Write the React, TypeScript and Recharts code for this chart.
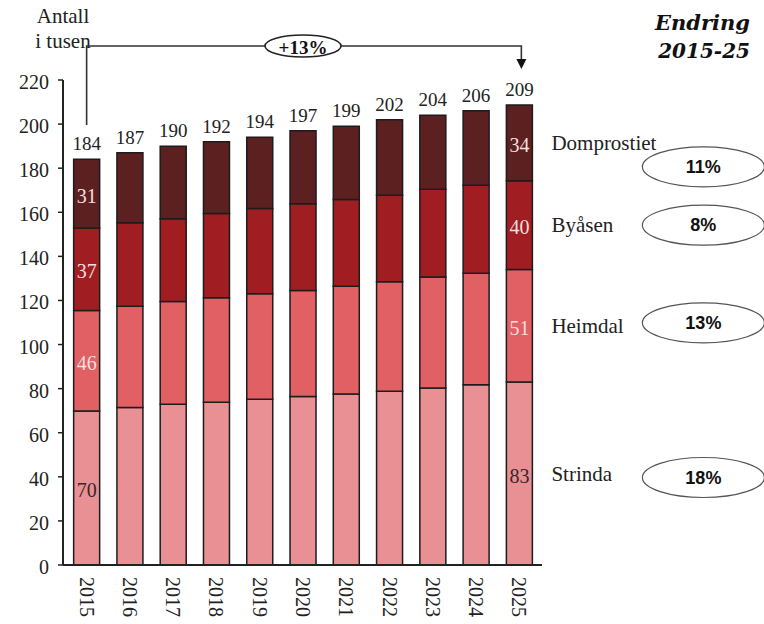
import React from 'react';
import { BarChart, Bar, XAxis, YAxis, LabelList } from 'recharts';

const years = ['2015', '2016', '2017', '2018', '2019', '2020', '2021', '2022', '2023', '2024', '2025'];
const strinda = [69.9, 71.4, 72.9, 73.8, 75.2, 76.4, 77.6, 78.8, 80.3, 81.8, 83.0];
const heimdal = [45.6, 46.0, 46.6, 47.4, 47.8, 48.1, 48.9, 49.7, 50.3, 50.5, 51.0];
const byasen = [37.4, 37.9, 37.6, 38.2, 38.7, 39.4, 39.3, 39.2, 39.9, 40.0, 40.3];
const domprostiet = [31.1, 31.7, 32.9, 32.6, 32.3, 33.1, 33.2, 34.3, 33.5, 33.7, 34.4];
const seriesNames = ['Strinda', 'Heimdal', 'Byåsen', 'Domprostiet'];
const changes = ['18%', '13%', '8%', '11%'];
const yTicks = [0, 20, 40, 60, 80, 100, 120, 140, 160, 180, 200, 220];
const overallChange = '+13%';
const unitLines = ['Antall', 'i tusen'];
const changeTitle = ['Endring', '2015-25'];

const W = 764;
const H = 624;
const LAST = years.length - 1;
const SERIF = '"Liberation Serif", "Times New Roman", serif';
const SANS = '"Liberation Sans", Arial, sans-serif';

const data = years.map((y, i) => ({
  year: y,
  strinda: strinda[i],
  heimdal: heimdal[i],
  byasen: byasen[i],
  domprostiet: domprostiet[i],
}));
const totals = years.map((_, i) => strinda[i] + heimdal[i] + byasen[i] + domprostiet[i]);

const series = [
  { key: 'strinda', values: strinda, color: '#e89094', labelColor: '#3a2626', name: seriesNames[0], change: changes[0], ellDy: 4 },
  { key: 'heimdal', values: heimdal, color: '#e06064', labelColor: '#f6dede', name: seriesNames[1], change: changes[1], ellDy: -3 },
  { key: 'byasen', values: byasen, color: '#a01e22', labelColor: '#f6dede', name: seriesNames[2], change: changes[2], ellDy: 0 },
  { key: 'domprostiet', values: domprostiet, color: '#5c2020', labelColor: '#f6dede', name: seriesNames[3], change: changes[3], ellDy: 24 },
];

const makeSegLabel = (s: any) => (props: any) => {
  const { x, y, width, height, index } = props;
  if (index !== 0 && index !== LAST) return null;
  const bx = Number(x), by = Number(y), bw = Number(width), bh = Number(height);
  const cx = bx + bw / 2;
  const cy = by + bh / 2;
  const v = Math.round(s.values[index]);
  return (
    <g>
      <text x={cx} y={cy} dy={2} textAnchor="middle" dominantBaseline="central" fill={s.labelColor} fontSize={20} fontFamily={SERIF}>
        {v}
      </text>
      {index === LAST && (
        <g>
          <text x={bx + bw + 19} y={cy} textAnchor="start" dominantBaseline="central" fill="#222" fontSize={21} fontFamily={SERIF}>
            {s.name}
          </text>
          <ellipse cx={bx + bw + 171} cy={cy + s.ellDy} rx={61} ry={20} fill="#fff" stroke="#555" strokeWidth={1.2} />
          <text x={bx + bw + 171} y={cy + s.ellDy} textAnchor="middle" dominantBaseline="central" fill="#111" fontSize={18} fontWeight="bold" fontFamily={SANS}>
            {s.change}
          </text>
        </g>
      )}
    </g>
  );
};

const TotalLabel = (props: any) => {
  const { x, y, width, index } = props;
  const cx = Number(x) + Number(width) / 2;
  return (
    <text x={cx} y={Number(y) - 9} textAnchor="middle" fill="#222" fontSize={19} fontFamily={SERIF}>
      {Math.round(totals[index])}
    </text>
  );
};

const XTick = (props: any) => {
  const { x, y, payload } = props;
  return (
    <text transform={`translate(${x},${y + 4}) rotate(90)`} textAnchor="start" dominantBaseline="central" fill="#222" fontSize={20} fontFamily={SERIF}>
      {payload.value}
    </text>
  );
};

const YTick = (props: any) => {
  const { x, y, payload } = props;
  return (
    <text x={x} y={y} dy={2} textAnchor="end" dominantBaseline="central" fill="#222" fontSize={20} fontFamily={SERIF}>
      {payload.value}
    </text>
  );
};

// layout constants for annotation overlay
const PLOT_LEFT = 63;
const PLOT_RIGHT = 542;
const PAD_L = 2;
const PAD_R = 1;
const BAND = (PLOT_RIGHT - PLOT_LEFT - PAD_L - PAD_R) / years.length;
const bandCenter = (i: number) => PLOT_LEFT + PAD_L + BAND * (i + 0.5);

export default function App() {
  const xStart = bandCenter(0);
  const xEnd = bandCenter(LAST) + 2;
  const bracketY = 46;
  return (
    <div style={{ position: 'absolute', left: 0, top: 0, width: W, height: H, background: '#fff' }}>
      <BarChart
        width={W}
        height={H}
        data={data}
        margin={{ top: 80, right: W - PLOT_RIGHT, bottom: 0, left: 0 }}
        barCategoryGap="20%"
      >
        <XAxis
          dataKey="year"
          height={59}
          tickLine={false}
          axisLine={{ stroke: '#222', strokeWidth: 2 }}
          tick={<XTick />}
          interval={0}
          padding={{ left: PAD_L, right: PAD_R }}
        />
        <YAxis
          width={PLOT_LEFT}
          domain={[0, 220]}
          ticks={yTicks}
          interval={0}
          tickSize={5}
          tickMargin={9}
          axisLine={{ stroke: '#222', strokeWidth: 2 }}
          tickLine={{ stroke: '#222', strokeWidth: 1.5 }}
          tick={<YTick />}
        />
        {series.map((s) => (
          <Bar key={s.key} dataKey={s.key} stackId="a" fill={s.color} stroke="#1c1c1c" strokeWidth={1.5} isAnimationActive={false}>
            <LabelList dataKey={s.key} content={makeSegLabel(s)} />
            {s.key === 'domprostiet' && <LabelList dataKey={s.key} content={<TotalLabel />} />}
          </Bar>
        ))}
      </BarChart>
      <svg width={W} height={H} style={{ position: 'absolute', left: 0, top: 0, pointerEvents: 'none' }}>
        <text x={PLOT_LEFT} y={23} textAnchor="middle" fill="#222" fontSize={21} fontFamily={SERIF}>{unitLines[0]}</text>
        <text x={PLOT_LEFT} y={48} textAnchor="middle" fill="#222" fontSize={21} fontFamily={SERIF}>{unitLines[1]}</text>
        <text x={750} y={30} textAnchor="end" fill="#111" fontSize={21} fontWeight="bold" fontStyle="italic" fontFamily='"DejaVu Serif", serif'>{changeTitle[0]}</text>
        <text x={750} y={58} textAnchor="end" fill="#111" fontSize={20} fontWeight="bold" fontStyle="italic" fontFamily='"DejaVu Serif", serif'>{changeTitle[1]}</text>
        <path d={`M ${xStart} 125 V ${bracketY} H ${xEnd} V 60`} fill="none" stroke="#333" strokeWidth={1.6} />
        <polygon points={`${xEnd - 5},59 ${xEnd + 5},59 ${xEnd},69`} fill="#111" />
        <ellipse cx={303} cy={bracketY} rx={38} ry={11} fill="#fff" stroke="#222" strokeWidth={1.6} />
        <text x={303} y={bracketY} dy={1} textAnchor="middle" dominantBaseline="central" fill="#111" fontSize={19} fontWeight="bold" fontFamily={SERIF}>{overallChange}</text>
      </svg>
    </div>
  );
}
